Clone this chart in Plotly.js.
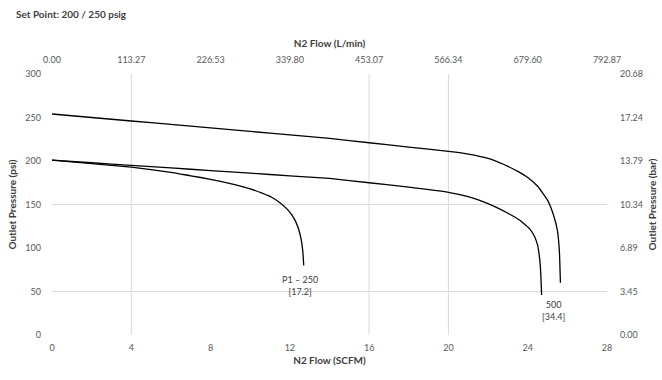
<!DOCTYPE html>
<html>
<head>
<meta charset="utf-8">
<script src="https://cdn.plot.ly/plotly-3.0.1.min.js"></script>
<style>html,body{margin:0;padding:0;background:#fff}#chart{width:662px;height:380px}</style>
</head>
<body>
<div id="chart"></div>
<script>
// Curve data: N2 flow (SCFM) vs outlet pressure (psi)
var flowA = [0, 2, 4, 6, 8, 10, 12, 14, 16, 18, 20, 21, 22, 22.8, 23.5, 24, 24.5, 25, 25.3, 25.5, 25.6, 25.65];
var psiA  = [254, 250, 246, 242, 238, 234, 230, 226, 221, 216, 211, 208, 203, 196, 188, 181, 171, 155, 138, 120, 95, 60];

var flowB = [0, 2, 4, 6, 8, 10, 12, 14, 16, 18, 20, 21, 22, 23, 23.6, 24.1, 24.35, 24.5, 24.6, 24.66, 24.7];
var psiB  = [201, 198, 195, 192, 189, 186, 183, 180, 175, 170, 164, 159, 151, 140, 132, 122, 113, 103, 88, 70, 46];

var flowC = [0, 2, 4, 6, 7, 8, 9, 10, 10.6, 11.1, 11.5, 11.85, 12.1, 12.3, 12.45, 12.57, 12.65, 12.7];
var psiC  = [201, 197, 193, 187, 183, 179, 174, 168, 163, 158, 152, 145, 138, 130, 121, 110, 97, 80];

// Axis ticks
var scfmTicks = [0, 4, 8, 12, 16, 20, 24, 28];
var lpmLabels = ["0.00", "113.27", "226.53", "339.80", "453.07", "566.34", "679.60", "792.87"];
var psiTicks  = [0, 50, 100, 150, 200, 250, 300];
var barLabels = ["0.00", "3.45", "6.89", "10.34", "13.79", "17.24", "20.68"];

// Gridlines present in the chart
var gridX = [4, 16, 20];
var gridY = [50, 150];

// Labels
var labelText = ["P1 \u2013 250<br>[17.2]", "500<br>[34.4]"];
var labelX = [12.5, 25.3];
var labelY = [57, 28];

var FONT = "Lato, 'Open Sans', 'DejaVu Sans', sans-serif";
var lineStyle = {color: "#000000", width: 1.3, shape: "spline", smoothing: 0.4};

var traces = [
  {x: flowA, y: psiA, mode: "lines", line: lineStyle, hoverinfo: "skip", showlegend: false},
  {x: flowB, y: psiB, mode: "lines", line: lineStyle, hoverinfo: "skip", showlegend: false},
  {x: flowC, y: psiC, mode: "lines", line: lineStyle, hoverinfo: "skip", showlegend: false},
  {x: flowA, y: psiA, xaxis: "x2", yaxis: "y2", mode: "lines", opacity: 0, hoverinfo: "skip", showlegend: false}
];

var shapes = [];
gridX.forEach(function (g) {
  shapes.push({type: "line", xref: "x", yref: "y", x0: g, x1: g, y0: -1.5, y1: 301,
    line: {color: "#d9d9d9", width: 1}, layer: "below"});
});
gridY.forEach(function (g) {
  shapes.push({type: "line", xref: "x", yref: "y", x0: -0.2, x1: 28.2, y0: g, y1: g,
    line: {color: "#d9d9d9", width: 1}, layer: "below"});
});

var annotations = labelText.map(function (t, i) {
  return {x: labelX[i], y: labelY[i], xref: "x", yref: "y", text: t, showarrow: false,
    font: {family: FONT, size: 9, color: "#404040"}, align: "center"};
});
annotations.push({xref: "paper", yref: "paper", x: -38 / 555, y: 1 + 60 / 261,
  xanchor: "left", yanchor: "middle", text: "<b>Set Point: 200 / 250 psig</b>", showarrow: false,
  font: {family: FONT, size: 10, color: "#404040"}});

var tickFont = {family: FONT, size: 9, color: "#595959"};
var titleFont = {family: FONT, size: 10, color: "#404040", weight: "bold"};

var layout = {
  width: 662, height: 380,
  margin: {l: 52, r: 55, t: 74, b: 45},
  paper_bgcolor: "#ffffff", plot_bgcolor: "#ffffff",
  font: {family: FONT},
  xaxis: {range: [0, 28], tickvals: scfmTicks, ticktext: scfmTicks.map(String), showgrid: false, zeroline: false,
    showline: false, ticks: "", tickfont: tickFont, ticklabelstandoff: 6,
    title: {text: "N2 Flow (SCFM)", font: titleFont, standoff: 4}},
  xaxis2: {range: [0, 28], overlaying: "x", side: "top", tickvals: scfmTicks, ticktext: lpmLabels, showgrid: false,
    zeroline: false, showline: false, ticks: "", tickfont: tickFont, ticklabelstandoff: 8,
    title: {text: "N2 Flow (L/min)", font: titleFont, standoff: 4}},
  yaxis: {range: [0, 300], tickvals: psiTicks, ticktext: psiTicks.map(String), showgrid: false, zeroline: false,
    showline: false, ticks: "", tickfont: tickFont, ticklabelstandoff: 10,
    title: {text: "Outlet Pressure (psi)", font: titleFont, standoff: 6}},
  yaxis2: {range: [0, 300], overlaying: "y", side: "right", tickvals: psiTicks, ticktext: barLabels, showgrid: false,
    zeroline: false, showline: false, ticks: "", tickfont: tickFont, ticklabelstandoff: 12,
    title: {text: "Outlet Pressure (bar)", font: titleFont, standoff: 6}},
  shapes: shapes,
  annotations: annotations
};

Plotly.newPlot("chart", traces, layout, {displayModeBar: false, staticPlot: true});
</script>
</body>
</html>
